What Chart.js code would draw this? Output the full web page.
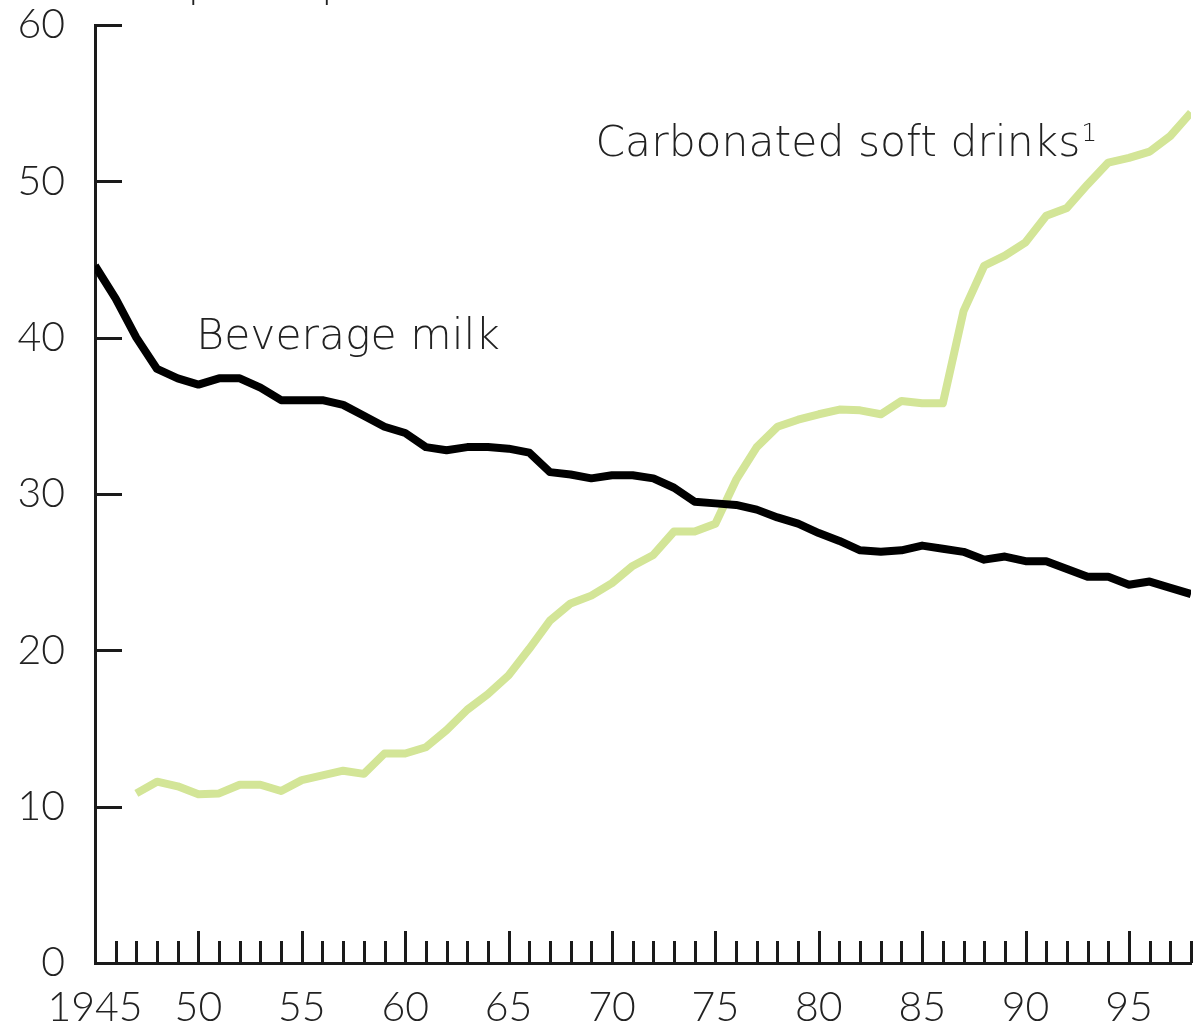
<!DOCTYPE html>
<html>
<head>
<meta charset="utf-8">
<title>Beverage milk and carbonated soft drinks</title>
<script src="https://cdn.jsdelivr.net/npm/chart.js@4.4.1/dist/chart.umd.min.js"></script>
<style>
    html, body { margin: 0; padding: 0; background: #fff; }
    #wrap { width: 1195px; height: 1028px; position: relative; }
</style>
</head>
<body>
<div id="wrap"><canvas id="chart"></canvas></div>
<script>
// years on the x axis
const years = [
    1945, 1946, 1947, 1948, 1949, 1950, 1951, 1952, 1953, 1954,
    1955, 1956, 1957, 1958, 1959, 1960, 1961, 1962, 1963, 1964,
    1965, 1966, 1967, 1968, 1969, 1970, 1971, 1972, 1973, 1974,
    1975, 1976, 1977, 1978, 1979, 1980, 1981, 1982, 1983, 1984,
    1985, 1986, 1987, 1988, 1989, 1990, 1991, 1992, 1993, 1994,
    1995, 1996, 1997, 1998
];

// gallons per capita, 1945-1998
const milk = [
    44.6, 42.5, 40.0, 38.0, 37.4, 37.0, 37.4, 37.4, 36.8, 36.0,
    36.0, 36.0, 35.7, 35.0, 34.3, 33.9, 33.0, 32.8, 33.0, 33.0,
    32.9, 32.65, 31.4, 31.25, 31.0, 31.2, 31.2, 31.0, 30.4, 29.5,
    29.4, 29.3, 29.0, 28.5, 28.1, 27.5, 27.0, 26.4, 26.3, 26.4,
    26.7, 26.5, 26.3, 25.8, 26.0, 25.7, 25.7, 25.2, 24.7, 24.7,
    24.2, 24.4, 24.0, 23.6
];

// gallons per capita, series starts in 1947
const softDrinks = [
    null, null, 10.85, 11.6, 11.3, 10.8, 10.85, 11.4, 11.4, 11.0,
    11.7, 12.0, 12.3, 12.1, 13.4, 13.4, 13.8, 14.9, 16.2, 17.2,
    18.4, 20.1, 21.9, 23.0, 23.5, 24.3, 25.4, 26.1, 27.6, 27.6,
    28.1, 30.9, 33.0, 34.3, 34.75, 35.1, 35.4, 35.35, 35.1, 35.95,
    35.8, 35.8, 41.7, 44.6, 45.25, 46.1, 47.8, 48.3, 49.8, 51.2,
    51.5, 51.9, 52.9, 54.4
];

const yTicks = [0, 10, 20, 30, 40, 50, 60];
const majorYears = [1945, 1950, 1955, 1960, 1965, 1970, 1975, 1980, 1985, 1990, 1995];

const unitLabel = 'Gallons per capita';
const milkLabel = 'Beverage milk';
const sodaLabel = 'Carbonated soft drinks';
const sodaNote = '1';

const toPoints = (arr) => years.map((yr, i) => ({ x: yr, y: arr[i] }));

const INK = '#1a1a1a';
const TEXT = '#222';
const tickFont = { family: 'Lato, Roboto, sans-serif', size: 41, weight: '300' };
const noteFont = '200 42.5px "DejaVu Sans", sans-serif';

// inward tick marks and the line labels
const decorations = {
    id: 'decorations',
    beforeDatasetsDraw(chart) {
        const { ctx, scales: { x, y } } = chart;
        ctx.save();
        ctx.strokeStyle = INK;
        ctx.lineWidth = 3;
        ctx.beginPath();
        for (const yr of years) {
            if (yr === years[0]) continue;
            const px = Math.round(x.getPixelForValue(yr)) + 0.5;
            const len = majorYears.includes(yr) ? 32 : 22;
            ctx.moveTo(px, y.bottom);
            ctx.lineTo(px, y.bottom - len);
        }
        for (const v of yTicks) {
            if (v === 0) continue;
            const py = Math.round(y.getPixelForValue(v)) + 0.5;
            ctx.moveTo(x.left, py);
            ctx.lineTo(x.left + 27, py);
        }
        ctx.stroke();
        ctx.restore();
    },
    afterDraw(chart) {
        const { ctx, scales: { x, y } } = chart;
        ctx.save();
        ctx.fillStyle = TEXT;
        ctx.font = noteFont;
        ctx.textBaseline = 'alphabetic';
        ctx.textAlign = 'left';

        ctx.fillText(unitLabel, x.getPixelForValue(1941.2), y.getPixelForValue(61.8));
        ctx.fillText(milkLabel, x.getPixelForValue(1949.9), y.getPixelForValue(39.3));

        const sx = x.getPixelForValue(1969.2);
        ctx.fillText(sodaLabel, sx, y.getPixelForValue(51.6));
        const w = ctx.measureText(sodaLabel).width;
        ctx.font = '200 25px "DejaVu Sans", sans-serif';
        ctx.fillText(sodaNote, sx + w + 1, y.getPixelForValue(52.55));
        ctx.restore();
    }
};

new Chart(document.getElementById('chart'), {
    type: 'line',
    data: {
        datasets: [
            {
                label: milkLabel,
                data: toPoints(milk),
                borderColor: '#000',
                borderWidth: 8,
                pointRadius: 0,
                tension: 0,
                borderJoinStyle: 'round',
                borderCapStyle: 'butt'
            },
            {
                label: sodaLabel,
                data: toPoints(softDrinks),
                borderColor: '#d3e597',
                borderWidth: 8,
                pointRadius: 0,
                tension: 0,
                spanGaps: false,
                borderJoinStyle: 'round',
                borderCapStyle: 'butt'
            }
        ]
    },
    options: {
        responsive: true,
        maintainAspectRatio: false,
        animation: false,
        devicePixelRatio: 1,
        layout: { padding: { top: 25, right: 4, left: 0, bottom: 0 } },
        plugins: {
            legend: { display: false },
            tooltip: { enabled: false },
            title: { display: false }
        },
        scales: {
            x: {
                type: 'linear',
                min: years[0],
                max: years[years.length - 1],
                grid: { display: false, drawTicks: false },
                border: { display: true, color: INK, width: 3 },
                afterFit(scale) {
                    scale.height = 65;
                    scale.paddingLeft = 0;
                    scale.paddingRight = 0;
                },
                afterBuildTicks(scale) {
                    scale.ticks = majorYears.map(v => ({ value: v }));
                },
                ticks: {
                    color: TEXT,
                    font: tickFont,
                    padding: 20,
                    maxRotation: 0,
                    autoSkip: false,
                    callback: (v) => (v === years[0] ? String(v) : String(v).slice(2))
                }
            },
            y: {
                min: 0,
                max: 60,
                grid: { display: false, drawTicks: false },
                border: { display: true, color: INK, width: 3 },
                afterFit(scale) {
                    scale.width = 95;
                    scale.paddingTop = 0;
                    scale.paddingBottom = 0;
                },
                afterBuildTicks(scale) {
                    scale.ticks = yTicks.map(v => ({ value: v }));
                },
                ticks: {
                    color: TEXT,
                    font: tickFont,
                    padding: 30
                }
            }
        }
    },
    plugins: [decorations]
});
</script>
</body>
</html>
